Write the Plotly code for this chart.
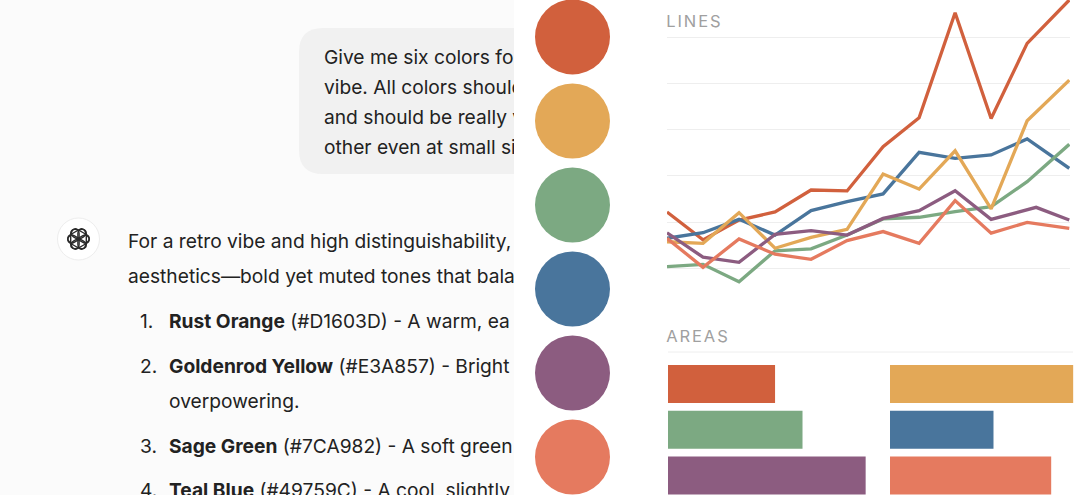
import math

import plotly.graph_objects as go

# 配色
RUST = "#D1603D"
GOLD = "#E3A857"
SAGE = "#7CA982"
TEAL = "#49759C"
PLUM = "#8C5C80"
SALMON = "#E57A5F"

palette = [RUST, GOLD, SAGE, TEAL, PLUM, SALMON]
swatch_rows = [0, 1, 2, 3, 4, 5]

# 折线数据
steps = [0, 1, 2, 3, 4, 5, 6, 7, 8, 9, 10, 11.17]
plum_steps = [0, 1, 2, 3, 4, 5, 6, 7, 8, 9, 10.25, 11.17]
rust_values = [24.4, 12.3, 20.9, 24.4, 33.9, 33.5, 52.7, 65.2, 110.7, 64.9, 97.4, 116.2]
gold_values = [11.5, 10.8, 24.1, 8.7, 13.4, 16.9, 40.8, 34.3, 50.9, 25.7, 63.9, 81.5]
sage_values = [0.7, 1.7, -5.8, 7.6, 8.4, 14.4, 21.4, 22.1, 24.5, 26.7, 37.5, 53.7]
teal_values = [13, 15.4, 21.2, 14.4, 25, 28.9, 32.2, 50.2, 47.6, 49.1, 56, 43.3]
plum_values = [15.4, 4.8, 2.6, 14.7, 16.3, 14.4, 21.6, 25, 33.6, 21.2, 26.4, 20.9]
salmon_values = [13, 0.4, 12.7, 6.1, 3.9, 12, 15.9, 10.8, 29.3, 15.2, 19.9, 17.3]

# 面积条数据
area_rows = [0, 1, 2]
area_left = [58.5, 73.5, 108]
area_right = [100, 56.5, 88]
area_left_colors = [RUST, SAGE, PLUM]
area_right_colors = [GOLD, TEAL, SALMON]

# 左侧对话文字
bubble_lines = [
    "Give me six colors for",
    "vibe. All colors should",
    "and should be really v",
    "other even at small si",
]
reply_lines = [
    "For a retro vibe and high distinguishability,",
    "aesthetics—bold yet muted tones that bala",
]
list_numbers = ["1.", "2.", "3.", "4."]
list_lines = [
    "<b>Rust Orange</b> (#D1603D) - A warm, ea",
    "<b>Goldenrod Yellow</b> (#E3A857) - Bright",
    "overpowering.",
    "<b>Sage Green</b> (#7CA982) - A soft green",
    "<b>Teal Blue</b> (#49759C) - A cool, slightly",
]

W, H = 1080, 495
FONT = "Inter"
TEXT = "#222222"


def xdom(a, b):
    return [a / W, b / W]


def ydom(top, bottom):
    return [1 - bottom / H, 1 - top / H]


def hidden(**kw):
    return dict(visible=False, fixedrange=True, **kw)


def capsule(cx, cy, half_len, half_wid, angle, offset):
    # 标志里的一个圆角环
    rad = math.radians(angle)
    ca, sa = math.cos(rad), math.sin(rad)

    def pt(u, v):
        v = v + offset
        return f"{cx + u * ca - v * sa:.2f} {cy + u * sa + v * ca:.2f}"

    k = half_wid * 1.3
    return (
        f"M {pt(-half_len, -half_wid)} L {pt(half_len, -half_wid)} "
        f"C {pt(half_len + k, -half_wid)} {pt(half_len + k, half_wid)} {pt(half_len, half_wid)} "
        f"L {pt(-half_len, half_wid)} "
        f"C {pt(-half_len - k, half_wid)} {pt(-half_len - k, -half_wid)} {pt(-half_len, -half_wid)} Z"
    )


fig = go.Figure()


def add_text(lines, x, ys):
    fig.add_trace(go.Scatter(
        x=[x] * len(lines), y=ys, text=lines, mode="text", textposition="middle right",
        textfont=dict(family=FONT, size=19.2, color=TEXT),
        xaxis="x", yaxis="y", cliponaxis=True, hoverinfo="skip",
    ))


add_text(bubble_lines, 324, [59, 89, 119, 149])
add_text(reply_lines, 128, [243, 278])
add_text(list_numbers, 140, [323, 368, 448, 492])
add_text(list_lines, 169, [323, 368, 403, 448, 492])

# 色块
fig.add_trace(go.Scatter(
    x=[0] * len(palette), y=swatch_rows, mode="markers",
    marker=dict(size=75, color=palette, line=dict(width=0)),
    xaxis="x2", yaxis="y2", cliponaxis=False,
))

# 折线
for vals, col, xs in [
    (rust_values, RUST, steps),
    (teal_values, TEAL, steps),
    (sage_values, SAGE, steps),
    (gold_values, GOLD, steps),
    (plum_values, PLUM, plum_steps),
    (salmon_values, SALMON, steps),
]:
    fig.add_trace(go.Scatter(
        x=xs, y=vals, mode="lines", line=dict(color=col, width=3.3),
        xaxis="x3", yaxis="y3",
    ))

# 面积条
fig.add_trace(go.Bar(
    x=area_left, y=area_rows, orientation="h", width=0.83,
    marker=dict(color=area_left_colors, line=dict(width=0)),
    xaxis="x4", yaxis="y4",
))
fig.add_trace(go.Bar(
    x=area_right, y=area_rows, orientation="h", width=0.83,
    marker=dict(color=area_right_colors, line=dict(width=0)),
    xaxis="x5", yaxis="y5",
))

shapes = [
    dict(type="rect", xref="x", yref="y", x0=0, x1=514, y0=0, y1=495, layer="below",
         fillcolor="#FBFBFB", line=dict(width=0)),
    dict(type="path", xref="x", yref="y", layer="below", fillcolor="#F1F1F1", line=dict(width=0),
         path="M 323 28 L 600 28 L 600 174 L 323 174 Q 299 174 299 150 L 299 52 Q 299 28 323 28 Z"),
    dict(type="circle", xref="x", yref="y", layer="below", x0=57.5, x1=99.5, y0=218, y1=260,
         fillcolor="#FFFFFF", line=dict(color="#EDEDED", width=1)),
    dict(type="line", xref="paper", yref="paper", x0=668 / W, x1=1073 / W, y0=1 - 352 / H, y1=1 - 352 / H,
         line=dict(color="#EEEEEE", width=1)),
]
for angle in [30, 90, 150, 210, 270, 330]:
    shapes.append(dict(type="path", xref="x", yref="y", layer="below",
                       path=capsule(78.5, 239, 5.5, 4.2, angle, 3.6),
                       line=dict(color="#2A2A2A", width=1.4)))

fig.update_layout(
    width=W, height=H, margin=dict(l=0, r=0, t=0, b=0), autosize=False,
    paper_bgcolor="#FFFFFF", plot_bgcolor="rgba(0,0,0,0)",
    showlegend=False, barmode="overlay", shapes=shapes,
    xaxis=hidden(domain=xdom(0, 514), range=[0, 514]),
    yaxis=hidden(domain=[0, 1], range=[495, 0]),
    xaxis2=hidden(domain=xdom(515, 630), range=[-1, 1], anchor="y2"),
    yaxis2=hidden(domain=[0, 1], range=[5.452, -0.44], anchor="x2"),
    xaxis3=dict(domain=xdom(667, 1070), range=[0, 11.19], anchor="y3", visible=False, fixedrange=True),
    yaxis3=dict(domain=ydom(0, 290), range=[-9.4, 116.2], anchor="x3", tick0=0, dtick=20,
                showgrid=True, gridcolor="#EEEEEE", gridwidth=1, zeroline=False,
                showline=False, ticks="", showticklabels=False, fixedrange=True),
    xaxis4=hidden(domain=xdom(668, 878), range=[0, 114.75], anchor="y4"),
    yaxis4=hidden(domain=ydom(360, 495), range=[2.427, -0.525], anchor="x4"),
    xaxis5=hidden(domain=xdom(890, 1075), range=[0, 101], anchor="y5"),
    yaxis5=hidden(domain=ydom(360, 495), range=[2.427, -0.525], anchor="x5"),
    annotations=[
        dict(text="LINES", xref="paper", yref="paper", x=669 / W, y=1 - 21 / H, xanchor="left", yanchor="middle",
             showarrow=False, font=dict(family=FONT, size=16.5, color="#A0A0A0", weight=400)),
        dict(text="AREAS", xref="paper", yref="paper", x=669 / W, y=1 - 336 / H, xanchor="left", yanchor="middle",
             showarrow=False, font=dict(family=FONT, size=16.5, color="#A0A0A0", weight=400)),
    ],
)

page_style = """
document.body.style.margin = '0';
var s = document.createElement('style');
s.textContent = '.annotation-text {letter-spacing: 1.9px;}';
document.head.appendChild(s);
"""
fig.write_html("out.html", post_script=page_style, config=dict(displayModeBar=False))
